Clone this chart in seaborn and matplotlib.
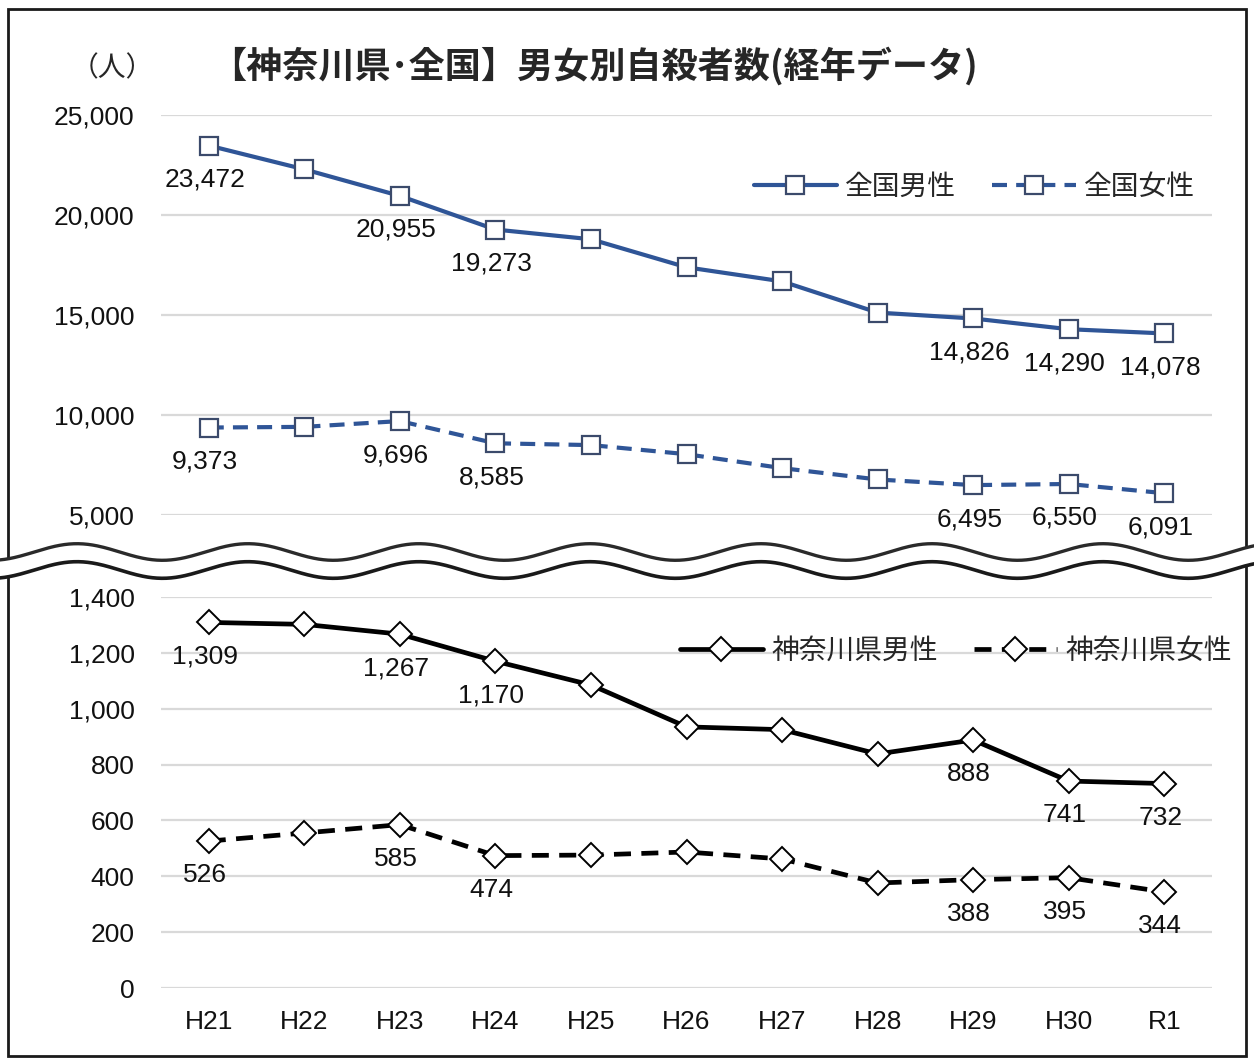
import numpy as np
import matplotlib.pyplot as plt
from matplotlib.patches import Rectangle
import seaborn as sns

# data (H21 .. R1)
years = ['H21', 'H22', 'H23', 'H24', 'H25', 'H26', 'H27', 'H28', 'H29', 'H30', 'R1']
zenkoku_male = [23472, 22283, 20955, 19273, 18787, 17386, 16681, 15121, 14826, 14290, 14078]
zenkoku_female = [9373, 9407, 9696, 8585, 8496, 8041, 7344, 6776, 6495, 6550, 6091]
kanagawa_male = [1309, 1302, 1267, 1170, 1085, 935, 925, 838, 888, 741, 732]
kanagawa_female = [526, 555, 585, 474, 476, 487, 462, 376, 388, 395, 344]
labeled = [0, 2, 3, 8, 9, 10]

top_ticks = [5000, 10000, 15000, 20000, 25000]
bottom_ticks = [0, 200, 400, 600, 800, 1000, 1200, 1400]

title = '【神奈川県･全国】男女別自殺者数(経年データ)'
unit = '（人）'

sns.set_style('white')
plt.rcParams['font.family'] = ['Liberation Sans', 'Noto Sans CJK JP', 'DejaVu Sans']

W, H = 1254, 1061
fig = plt.figure(figsize=(W / 100, H / 100), dpi=100)
fig.patch.set_facecolor('white')

ax_top = fig.add_axes([161 / W, 1 - 515 / H, 1051 / W, 400 / H])
ax_bot = fig.add_axes([161 / W, 1 - 988 / H, 1051 / W, 391 / H])

blue = '#2f5597'
sq_edge = '#3b4a6b'
dash = (0, (3.6, 2.2))

sns.lineplot(x=years, y=zenkoku_male, ax=ax_top, color=blue, lw=3,
             marker='s', markersize=13, markerfacecolor='white',
             markeredgecolor=sq_edge, markeredgewidth=1.6, label='全国男性')
sns.lineplot(x=years, y=zenkoku_female, ax=ax_top, color=blue, lw=3, linestyle=dash,
             marker='s', markersize=13, markerfacecolor='white',
             markeredgecolor=sq_edge, markeredgewidth=1.6, label='全国女性')
sns.lineplot(x=years, y=kanagawa_male, ax=ax_bot, color='black', lw=3.4,
             marker='D', markersize=12, markerfacecolor='white',
             markeredgecolor='black', markeredgewidth=1.4, label='神奈川県男性')
sns.lineplot(x=years, y=kanagawa_female, ax=ax_bot, color='black', lw=3.4, linestyle=dash,
             marker='D', markersize=12, markerfacecolor='white',
             markeredgecolor='black', markeredgewidth=1.4, label='神奈川県女性')


def add_labels(ax, values):
    for i in labeled:
        ax.annotate(f'{values[i]:,}', (i, values[i]), xytext=(-4, -34),
                    textcoords='offset pixels', ha='center', va='center',
                    fontsize=19, color='#111111', annotation_clip=False)


add_labels(ax_top, zenkoku_male)
add_labels(ax_top, zenkoku_female)
add_labels(ax_bot, kanagawa_male)
add_labels(ax_bot, kanagawa_female)

for ax, ticks in [(ax_top, top_ticks), (ax_bot, bottom_ticks)]:
    ax.set_xlim(-0.5, len(years) - 0.5)
    ax.set_ylim(ticks[0], ticks[-1])
    ax.set_yticks(ticks)
    ax.set_yticklabels([f'{t:,}' for t in ticks])
    ax.grid(axis='y', color='#d9d9d9', lw=1.6)
    ax.grid(axis='x', visible=False)
    ax.set_axisbelow(True)
    for s in ax.spines.values():
        s.set_visible(False)
    ax.tick_params(axis='y', length=0, pad=19, labelsize=19, labelcolor='#111111')
    ax.tick_params(axis='x', length=0, pad=16, labelsize=19, labelcolor='#111111')
    ax.set_xlabel('')
    ax.set_ylabel('')
    ax.patch.set_alpha(0)

ax_top.tick_params(axis='x', labelbottom=False)

leg_kw = dict(frameon=False, ncol=2, fontsize=20, handlelength=3.0, handletextpad=0.3,
              columnspacing=1.3, borderpad=0, borderaxespad=0, loc='center right',
              bbox_transform=fig.transFigure)
leg1 = ax_top.legend(bbox_to_anchor=(1195 / W, 1 - 187 / H), **leg_kw)
leg2 = ax_bot.legend(bbox_to_anchor=(1232 / W, 1 - 651 / H), **leg_kw)
for leg in (leg1, leg2):
    for t in leg.get_texts():
        t.set_family(['Noto Sans CJK JP'])

fig.text(210 / W, 1 - 66 / H, title, ha='left', va='center', fontsize=26,
         fontweight='bold', family=['Noto Sans CJK JP'])
fig.text(112 / W, 1 - 68 / H, unit, ha='center', va='center', fontsize=20,
         family=['Noto Sans CJK JP'])

# frame and axis-break wave
ov = fig.add_axes([0, 0, 1, 1], zorder=10)
ov.set_xlim(0, W)
ov.set_ylim(H, 0)
ov.axis('off')
ov.patch.set_alpha(0)
ov.add_patch(Rectangle((8, 9), 1238, 1047, fill=False, ec='#1a1a1a', lw=2))
xs = np.linspace(0, W, 800)
wave = np.cos(2 * np.pi * (xs - 248) / 171)
upper = 552 - 8.3 * wave
lower = 570 - 8.3 * wave
ov.fill_between(xs, upper, lower, color='white', lw=0)
ov.plot(xs, upper, color='#2a2a2a', lw=2.4)
ov.plot(xs, lower, color='#1a1a1a', lw=2.6)

fig.savefig('out.png', dpi=100)
